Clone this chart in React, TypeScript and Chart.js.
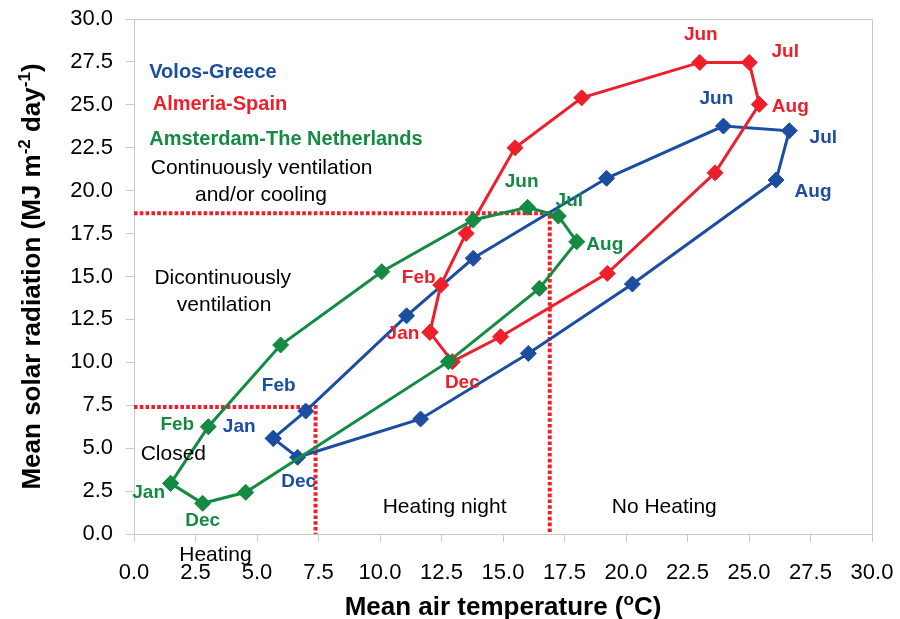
import { useEffect, useRef } from 'react';
import { Chart, registerables } from 'chart.js';

Chart.register(...registerables);

// Monthly climate loops: mean air temperature (°C) vs mean solar radiation (MJ m-2 day-1)
const months = ['Jan', 'Feb', 'Mar', 'Apr', 'May', 'Jun', 'Jul', 'Aug', 'Sep', 'Oct', 'Nov', 'Dec'];

const volosTemp = [5.66, 6.98, 11.08, 13.79, 19.21, 23.96, 26.64, 26.1, 20.26, 16.03, 11.65, 6.65];
const volosRad = [5.57, 7.16, 12.71, 16.06, 20.72, 23.76, 23.49, 20.62, 14.56, 10.52, 6.7, 4.47];

const almeriaTemp = [12.03, 12.47, 13.5, 15.49, 18.2, 23.0, 25.01, 25.42, 23.62, 19.24, 14.9, 12.94];
const almeriaRad = [11.75, 14.5, 17.51, 22.5, 25.41, 27.47, 27.47, 25.03, 21.04, 15.18, 11.49, 10.04];

const amsterdamTemp = [1.49, 3.02, 5.96, 10.07, 13.79, 16.0, 17.25, 18.0, 16.48, 12.78, 4.54, 2.79];
const amsterdamRad = [2.95, 6.25, 11.01, 15.28, 18.29, 19.03, 18.52, 17.03, 14.31, 10.04, 2.43, 1.79];

// Threshold guides (temperature, radiation)
const coolingThreshold = { temp: 16.9, rad: 18.68 };
const heatingThreshold = { temp: 7.38, rad: 7.4 };

const xTicks = { min: 0, max: 30, step: 2.5 };
const yTicks = { min: 0, max: 30, step: 2.5 };

const seriesNames = ['Volos-Greece', 'Almeria-Spain', 'Amsterdam-The Netherlands'];

// Months that carry a label on each loop
const labelledMonths = ['Jan', 'Feb', 'Jun', 'Jul', 'Aug', 'Dec'];

const BLUE = '#1B4DA1';
const RED = '#EE1F2B';
const GREEN = '#148A43';
const AXIS_GREY = '#C9C9C9';
const FONT = '"Liberation Sans", Arial, Helvetica, sans-serif';

// Label offsets in pixels from each marker
const labelOffsets: Record<string, Record<string, [number, number]>> = {
  volos: { Jan: [-34, -12], Feb: [-27, -25], Jun: [-7, -27], Jul: [34, 7], Aug: [37, 12], Dec: [1, 25] },
  almeria: { Jan: [-27, 1], Feb: [-22, -7], Jun: [1, -28], Jul: [36, -11], Aug: [31, 2], Dec: [10, 21] },
  amsterdam: { Jan: [-22, 9], Feb: [-31, -2], Jun: [-6, -26], Jul: [11, -15], Aug: [28, 3], Dec: [0, 17] },
};

// Zone captions, anchored in data coordinates (left edge, vertical middle)
const zoneNotes: { text: string; x: number; y: number }[] = [
  { text: 'Continuously ventilation', x: 0.68, y: 21.3 },
  { text: 'and/or cooling', x: 2.48, y: 19.75 },
  { text: 'Dicontinuously', x: 0.83, y: 14.89 },
  { text: 'ventilation', x: 1.74, y: 13.34 },
  { text: 'Closed', x: 0.27, y: 4.66 },
  { text: 'Heating', x: 1.84, y: -1.22 },
  { text: 'Heating night', x: 10.11, y: 1.59 },
  { text: 'No Heating', x: 19.42, y: 1.59 },
];

const legendAnchors = [
  { x: 0.62, y: 26.87 },
  { x: 0.76, y: 25.03 },
  { x: 0.62, y: 22.99 },
];

function loop(temps: number[], rads: number[]) {
  const pts = temps.map((t, i) => ({ x: t, y: rads[i] }));
  pts.push({ ...pts[0] });
  return pts;
}

type Part = { text: string; sup?: boolean };

function drawRich(ctx: CanvasRenderingContext2D, parts: Part[], cx: number, baseline: number) {
  const main = `bold 26px ${FONT}`;
  const small = `bold 17px ${FONT}`;
  let total = 0;
  const widths = parts.map((p) => {
    ctx.font = p.sup ? small : main;
    const w = ctx.measureText(p.text).width;
    total += w;
    return w;
  });
  let x = cx - total / 2;
  ctx.textAlign = 'left';
  ctx.textBaseline = 'alphabetic';
  parts.forEach((p, i) => {
    ctx.font = p.sup ? small : main;
    ctx.fillText(p.text, x, p.sup ? baseline - 10 : baseline);
    x += widths[i];
  });
}

const overlayPlugin = {
  id: 'overlay',
  afterDatasetsDraw(chart: any) {
    const { ctx, chartArea, scales } = chart;
    const xs = scales.x;
    const ys = scales.y;
    ctx.save();

    // frame on the top and right sides
    ctx.strokeStyle = AXIS_GREY;
    ctx.lineWidth = 1;
    ctx.beginPath();
    ctx.moveTo(chartArea.left, chartArea.top + 0.5);
    ctx.lineTo(chartArea.right + 0.5, chartArea.top + 0.5);
    ctx.lineTo(chartArea.right + 0.5, chartArea.bottom);
    ctx.stroke();

    // month labels
    const keys = ['volos', 'almeria', 'amsterdam'];
    const colors = [BLUE, RED, GREEN];
    ctx.font = `bold 19px ${FONT}`;
    ctx.textAlign = 'center';
    ctx.textBaseline = 'middle';
    keys.forEach((key, di) => {
      const meta = chart.getDatasetMeta(di);
      ctx.fillStyle = colors[di];
      labelledMonths.forEach((m) => {
        const idx = months.indexOf(m);
        const pt = meta.data[idx];
        const off = labelOffsets[key][m];
        ctx.fillText(m, pt.x + off[0], pt.y + off[1]);
      });
    });

    // legend block
    ctx.font = `bold 20px ${FONT}`;
    ctx.textAlign = 'left';
    seriesNames.forEach((name, i) => {
      ctx.fillStyle = colors[i];
      ctx.fillText(name, xs.getPixelForValue(legendAnchors[i].x), ys.getPixelForValue(legendAnchors[i].y));
    });

    // zone captions
    ctx.font = `21px ${FONT}`;
    ctx.fillStyle = '#000';
    zoneNotes.forEach((n) => {
      ctx.fillText(n.text, xs.getPixelForValue(n.x), ys.getPixelForValue(n.y));
    });

    // axis titles with superscripts
    ctx.fillStyle = '#000';
    drawRich(
      ctx,
      [{ text: 'Mean air temperature (' }, { text: 'o', sup: true }, { text: 'C)' }],
      (chartArea.left + chartArea.right) / 2,
      615
    );
    ctx.translate(40, (chartArea.top + chartArea.bottom) / 2);
    ctx.rotate(-Math.PI / 2);
    drawRich(
      ctx,
      [
        { text: 'Mean solar radiation (MJ m' },
        { text: '-2', sup: true },
        { text: ' day' },
        { text: '-1', sup: true },
        { text: ')' },
      ],
      0,
      0
    );
    ctx.restore();
  },
};

export default function App() {
  const canvasRef = useRef<HTMLCanvasElement | null>(null);

  useEffect(() => {
    document.body.style.margin = '0';
    const canvas = canvasRef.current;
    if (!canvas) return;

    const series = (label: string, data: any[], color: string, order: number) => ({
      label,
      data,
      borderColor: color,
      backgroundColor: color,
      borderWidth: 3,
      pointStyle: 'rectRot',
      pointRadius: 8,
      pointBorderWidth: 1,
      pointBackgroundColor: color,
      pointBorderColor: color,
      showLine: true,
      tension: 0,
      order,
    });

    const guide = (t: { temp: number; rad: number }) => ({
      label: 'guide',
      data: [
        { x: 0, y: t.rad },
        { x: t.temp, y: t.rad },
        { x: t.temp, y: 0 },
      ],
      borderColor: RED,
      borderWidth: 4,
      borderDash: [3.6, 2.2],
      borderCapStyle: 'butt',
      pointRadius: 0,
      showLine: true,
      tension: 0,
      order: 10,
    });

    const tickFont = { family: FONT, size: 22 };

    const chart = new Chart(canvas, {
      type: 'scatter',
      data: {
        datasets: [
          series(seriesNames[0], loop(volosTemp, volosRad), BLUE, 3),
          series(seriesNames[1], loop(almeriaTemp, almeriaRad), RED, 2),
          series(seriesNames[2], loop(amsterdamTemp, amsterdamRad), GREEN, 1),
          guide(coolingThreshold),
          guide(heatingThreshold),
        ] as any,
      },
      options: {
        animation: false,
        responsive: true,
        maintainAspectRatio: false,
        layout: { padding: { left: 0, top: 19, right: 28, bottom: 0 } },
        plugins: { legend: { display: false }, tooltip: { enabled: false } },
        scales: {
          x: {
            type: 'linear',
            min: xTicks.min,
            max: xTicks.max,
            afterFit: (s: any) => {
              s.height = 85;
              s.paddingLeft = 0;
              s.paddingRight = 0;
            },
            ticks: {
              stepSize: xTicks.step,
              color: '#000',
              font: tickFont,
              padding: 18,
              maxRotation: 0,
              callback: (v: any) => Number(v).toFixed(1),
            },
            grid: { drawOnChartArea: false, color: AXIS_GREY, tickLength: 8 },
            border: { color: AXIS_GREY, width: 1 },
          },
          y: {
            type: 'linear',
            min: yTicks.min,
            max: yTicks.max,
            afterFit: (s: any) => {
              s.width = 134;
              s.paddingTop = 0;
              s.paddingBottom = 0;
            },
            ticks: {
              stepSize: yTicks.step,
              color: '#000',
              font: tickFont,
              padding: 13,
              callback: (v: any) => Number(v).toFixed(1),
            },
            grid: { drawOnChartArea: false, color: AXIS_GREY, tickLength: 8 },
            border: { color: AXIS_GREY, width: 1 },
          },
        },
      } as any,
      plugins: [overlayPlugin],
    });

    return () => chart.destroy();
  }, []);

  return (
    <div style={{ width: 900, height: 619, position: 'relative', background: '#fff' }}>
      <canvas ref={canvasRef} />
    </div>
  );
}
